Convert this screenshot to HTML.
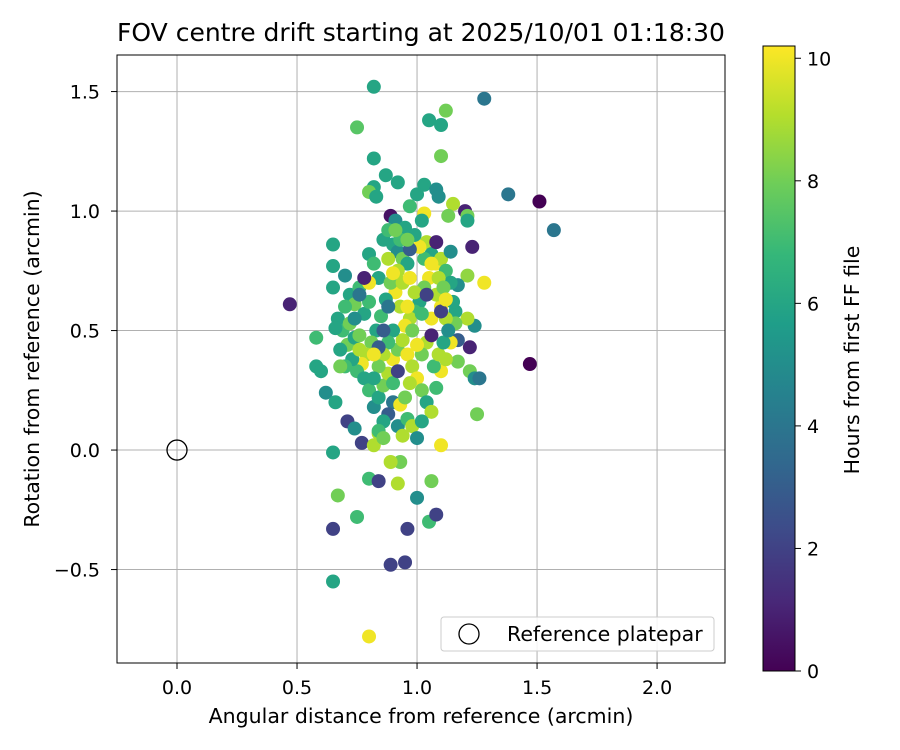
<!DOCTYPE html>
<html><head><meta charset="utf-8"><style>
body{margin:0;background:#fff;}
svg{display:block;font-family:"DejaVu Sans","Liberation Sans",sans-serif;}
</style></head><body>
<svg id="chart" width="900" height="750" xmlns="http://www.w3.org/2000/svg">
<text x="421" y="41" font-size="25" text-anchor="middle">FOV centre drift starting at 2025/10/01 01:18:30</text>
<g id="grid"></g><g id="pts"></g><g id="axes"></g>
<text x="421" y="723" font-size="20.5" text-anchor="middle">Angular distance from reference (arcmin)</text>
<text x="39" y="359" font-size="20.5" text-anchor="middle" transform="rotate(-90 39 359)">Rotation from reference (arcmin)</text>
<g>
<rect x="441" y="617" width="273" height="34" rx="3" fill="#fff" fill-opacity="0.85" stroke="#ccc"/>
<circle cx="469" cy="634" r="10" fill="none" stroke="#000" stroke-width="1.3"/>
<text x="507" y="641" font-size="20.5">Reference platepar</text>
</g>
<defs><linearGradient id="vir" x1="0" y1="1" x2="0" y2="0"></linearGradient></defs>
<rect x="763" y="46" width="32" height="625" fill="url(#vir)" stroke="#000" stroke-width="1"/>
<g id="cbticks"></g>
<text x="859" y="360" font-size="20.5" text-anchor="middle" transform="rotate(-90 859 360)">Hours from first FF file</text>
</svg>
<script>
const xTicks=[0.0,0.5,1.0,1.5,2.0];
const yTicks=[-0.5,0.0,0.5,1.0,1.5];
const cTicks=[0,2,4,6,8,10];
const xs=[0.47,1.51,1.47,1.57,1.38,1.28,0.82,0.75,1.05,1.10,1.12,1.10,0.82,0.87,0.92,0.82,0.80,0.83,1.03,1.08,1.09,1.15,1.20,1.21,1.21,1.13,0.89,0.91,1.03,1.23,0.65,0.65,0.65,0.58,0.58,0.62,0.66,0.71,0.74,0.77,0.65,0.67,0.65,0.75,0.65,0.80,0.84,0.89,0.95,0.96,1.00,1.05,1.08,1.06,0.92,0.93,0.89,0.80,0.82,0.84,1.10,1.25,1.22,1.28,1.24,1.24,1.26,1.22,1.17,1.17,1.21,1.21,1.17,1.16,
0.70,0.72,0.74,0.76,0.78,0.80,0.80,0.82,0.84,0.86,0.88,0.90,0.92,0.94,0.96,0.97,1.00,1.02,1.04,1.06,1.08,1.10,1.12,1.14,1.05,1.03,1.01,0.99,0.97,0.95,0.93,0.91,0.89,0.87,0.85,0.83,0.81,0.79,0.77,0.75,0.73,0.71,0.69,0.67,0.68,0.70,0.72,0.74,0.76,0.78,0.80,0.82,0.84,0.86,0.88,0.90,0.92,0.94,0.96,0.98,1.00,1.02,1.04,1.06,1.08,1.10,1.12,1.14,1.16,1.12,1.10,1.08,1.06,1.04,1.02,1.00,0.98,0.96,0.94,0.92,0.90,0.88,0.86,0.84,0.82,0.90,0.92,0.94,0.96,0.98,1.00,1.02,0.88,0.86,0.84,0.86,0.90,0.93,0.95,0.97,1.07,1.09,1.11,1.13,1.15,1.09,1.11,1.03,1.01,0.99,0.95,0.93,0.91,0.97,0.99,1.02,0.80,0.78,0.76,0.74,0.86,1.04,1.06,1.10,0.92,0.84,1.08,0.97,0.88,1.14,0.96,1.06,1.12,0.88,0.90,0.82,0.76,0.70,0.66,0.68,0.60];
const ys=[0.61,1.04,0.36,0.92,1.07,1.47,1.52,1.35,1.38,1.36,1.42,1.23,1.22,1.15,1.12,1.10,1.08,1.06,1.11,1.09,1.06,1.03,1.00,0.98,0.96,0.98,0.98,0.96,0.99,0.85,0.86,0.77,0.68,0.47,0.35,0.24,0.20,0.12,0.09,0.03,-0.01,-0.19,-0.33,-0.28,-0.55,-0.12,-0.13,-0.48,-0.47,-0.33,-0.20,-0.30,-0.27,-0.13,-0.14,-0.05,-0.05,-0.78,0.02,0.07,0.02,0.15,0.33,0.70,0.52,0.30,0.30,0.43,0.46,0.37,0.55,0.73,0.69,0.58,
0.73,0.65,0.61,0.68,0.57,0.62,0.82,0.78,0.72,0.88,0.92,0.86,0.83,0.80,0.78,1.02,1.07,0.96,0.87,0.82,0.78,0.80,0.75,0.70,0.72,0.68,0.62,0.58,0.55,0.52,0.60,0.66,0.70,0.63,0.56,0.50,0.45,0.40,0.36,0.33,0.38,0.44,0.50,0.55,0.42,0.35,0.53,0.47,0.42,0.30,0.25,0.18,0.22,0.27,0.32,0.38,0.42,0.46,0.40,0.35,0.30,0.25,0.20,0.16,0.26,0.33,0.38,0.45,0.53,0.55,0.60,0.65,0.55,0.45,0.40,0.44,0.50,0.60,0.70,0.75,0.50,0.45,0.40,0.35,0.30,0.20,0.10,0.06,0.13,0.10,0.05,0.12,0.15,0.12,0.08,0.05,0.28,0.19,0.22,0.28,0.35,0.40,0.45,0.50,0.62,0.72,0.68,0.80,0.85,0.90,0.93,0.88,0.92,0.72,0.66,0.57,0.70,0.72,0.65,0.55,0.50,0.65,0.48,0.58,0.33,0.43,0.87,0.84,0.60,0.83,0.88,0.78,0.63,0.80,0.74,0.40,0.48,0.60,0.51,0.35,0.33];
const hours=[1,0,0,4,4,4,6,7.5,6,6,8,8,6,6,6,6,8,6,6,5,5,9,1,8,6,8,0.5,5,10,1,6,6,6,7,6,5,6,2,5,2,6,8,2,7,6,7,2,2,2,2,5,7,2,8,9,8,9,10,9,9,10,8,8,10,5,5,4,1,3,8,9,8.5,5,6,
5,6,8,7,6,7,6,7,6,6,7,6,5,8,6,7,6,6,9,6,10,9,7,6,10,8,6,7,9,10,9,10,8,6,7,6,8,9,10,7,6,8,7,6,6,7,8,6,9,6,7,5,6,8,9,10,8,9,10,9,10,8,6,9,7,10,9,10,8,9,10,9,10,9,8,10,8,10,9,9,6,7,9,8,6,4,5,9,7,9,5,6,3,6,7,8,7,10,8,9,7,9,6,5,6,9,8,7,10,6,6,7,8,10,9,7,10,1,4,5,3,2,1,2,2,3,1,3,4,5,8,10,10,9,10,10,8,7,6,8,6];
const L=117,R=725,T=55,B=663,X0=-0.25,X1=2.283,Y0=-0.891,Y1=1.653;
const sx=v=>L+(v-X0)/(X1-X0)*(R-L), sy=v=>B-(v-Y0)/(Y1-Y0)*(B-T);
const vir=[[68,1,84],[72,40,120],[62,74,137],[49,104,142],[38,130,142],[31,158,137],[53,183,121],[109,205,89],[180,222,44],[253,231,37]];
function cmap(h){let t=Math.max(0,Math.min(1,h/10.2))*9,i=Math.min(8,Math.floor(t)),f=t-i,a=vir[i],b=vir[i+1];return `rgb(${a.map((c,k)=>Math.round(c+(b[k]-c)*f)).join(',')})`;}
const NS="http://www.w3.org/2000/svg";
function mk(tag,attrs,parent){const e=document.createElementNS(NS,tag);for(const k in attrs)e.setAttribute(k,attrs[k]);parent.appendChild(e);return e;}
const g=document.getElementById('grid'),ax=document.getElementById('axes'),pts=document.getElementById('pts');
xTicks.forEach(v=>{const x=sx(v);
const l=mk('line',{x1:x,x2:x,y1:T,y2:B,stroke:'#b0b0b0','stroke-width':1},g);


mk('line',{x1:x,x2:x,y1:B,y2:B+6,stroke:'#000'},ax);
const t=mk('text',{x:x,y:B+31,'font-size':19,'text-anchor':'middle'},ax);t.textContent=v.toFixed(1);

});
yTicks.forEach(v=>{const y=sy(v);
const l=mk('line',{x1:L,x2:R,y1:y,y2:y,stroke:'#b0b0b0','stroke-width':1},g);


mk('line',{x1:L-6,x2:L,y1:y,y2:y,stroke:'#000'},ax);
const t=mk('text',{x:L-17,y:y+7,'font-size':19,'text-anchor':'end'},ax);t.textContent=(v<0?'\u2212':'')+Math.abs(v).toFixed(1);

});
xs.forEach((v,i)=>{const c=mk('circle',{cx:sx(v),cy:sy(ys[i]),r:7,fill:cmap(hours[i])},pts);

});
const ref=mk('circle',{cx:sx(0),cy:sy(0),r:10,fill:'none',stroke:'#000','stroke-width':1.3},pts);


const fr=mk('rect',{x:L,y:T,width:R-L,height:B-T,fill:'none',stroke:'#000','stroke-width':1},ax);


const grad=document.getElementById('vir');
vir.forEach((c,i)=>mk('stop',{offset:(i/9),'stop-color':`rgb(${c.join(',')})`},grad));
const cb=document.getElementById('cbticks');
cTicks.forEach(v=>{const y=671-v/10.2*625;
mk('line',{x1:795,x2:801,y1:y,y2:y,stroke:'#000'},cb);
const t=mk('text',{x:807,y:y+7,'font-size':19},cb);t.textContent=v;

});
</script>
</body></html>
